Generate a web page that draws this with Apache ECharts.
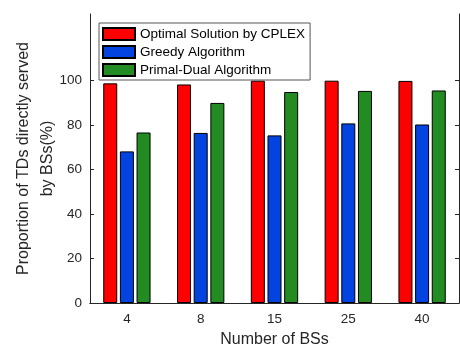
<!DOCTYPE html>
<html>
<head>
<meta charset="utf-8">
<script src="https://cdn.jsdelivr.net/npm/echarts@6/dist/echarts.min.js"></script>
<style>
  html, body { margin: 0; padding: 0; background: #fff; }
  #chart { width: 460px; height: 347px; }
</style>
</head>
<body>
<div id="chart"></div>
<script>
// Number of base stations on the x axis
const categories = ['4', '8', '15', '25', '40'];

// Share of terminal devices served directly by base stations (%)
const optimalCplex = [98.8, 98.3, 100, 100, 99.9];
const greedy = [68.2, 76.5, 75.4, 80.8, 80.3];
const primalDual = [76.7, 90.0, 94.9, 95.4, 95.6];

const yTicks = [0, 20, 40, 60, 80, 100];

const FONT = 'Liberation Sans, Arial, Helvetica, sans-serif';
const AXIS_COLOR = '#262626';

const chart = echarts.init(document.getElementById('chart'));

function barSeries(name, data, color) {
  return {
    name: name,
    type: 'bar',
    data: data,
    barWidth: 14,
    barGap: '19%',
    itemStyle: { color: color, borderColor: '#000', borderWidth: 1 }
  };
}

chart.setOption({
  animation: false,
  backgroundColor: '#fff',
  textStyle: { fontFamily: FONT },
  grid: { left: 90, right: 1, top: 14, bottom: 44, outerBoundsMode: 'none', containLabel: false },
  legend: {
    orient: 'vertical',
    left: 99,
    top: 23,
    padding: [4, 5, 3, 3],
    itemWidth: 32,
    itemHeight: 12,
    itemGap: 4,
    icon: 'rect',
    borderColor: '#555',
    borderWidth: 1,
    backgroundColor: '#fff',
    z: 10,
    textStyle: { fontFamily: FONT, fontSize: 13.5, lineHeight: 13, color: '#000' },
    data: ['Optimal Solution by CPLEX', 'Greedy Algorithm', 'Primal-Dual Algorithm']
  },
  xAxis: [
    {
      type: 'category',
      data: categories,
      position: 'bottom',
      name: 'Number of BSs',
      nameLocation: 'middle',
      nameGap: 29,
      nameMoveOverlap: false,
      nameTextStyle: { fontFamily: FONT, fontSize: 16, color: AXIS_COLOR },
      axisLine: { lineStyle: { color: AXIS_COLOR, width: 1 } },
      axisTick: { inside: true, alignWithLabel: true, length: 4, lineStyle: { color: AXIS_COLOR } },
      axisLabel: { margin: 9, fontFamily: FONT, fontSize: 13.5, color: AXIS_COLOR }
    },
    {
      type: 'category',
      data: categories,
      position: 'top',
      axisLine: { lineStyle: { color: AXIS_COLOR, width: 1 } },
      axisTick: { inside: true, alignWithLabel: true, length: 4, lineStyle: { color: AXIS_COLOR } },
      axisLabel: { show: false }
    }
  ],
  yAxis: [
    {
      type: 'value',
      min: 0,
      max: 130,
      interval: 20,
      position: 'left',
      name: 'Proportion of TDs directly served\nby BSs(%)',
      nameLocation: 'middle',
      nameRotate: 90,
      nameGap: 30,
      nameMoveOverlap: false,
      nameTextStyle: { fontFamily: FONT, fontSize: 16, color: AXIS_COLOR, lineHeight: 24 },
      splitLine: { show: false },
      axisLine: { show: true, lineStyle: { color: AXIS_COLOR, width: 1 } },
      axisTick: { show: true, inside: true, length: 4, customValues: yTicks, lineStyle: { color: AXIS_COLOR } },
      axisLabel: { margin: 8, fontFamily: FONT, fontSize: 13.5, color: AXIS_COLOR, customValues: yTicks }
    },
    {
      type: 'value',
      min: 0,
      max: 130,
      interval: 20,
      position: 'right',
      splitLine: { show: false },
      axisLine: { show: true, lineStyle: { color: AXIS_COLOR, width: 1 } },
      axisTick: { show: true, inside: true, length: 4, customValues: yTicks, lineStyle: { color: AXIS_COLOR } },
      axisLabel: { show: false }
    }
  ],
  series: [
    barSeries('Optimal Solution by CPLEX', optimalCplex, '#ff0000'),
    barSeries('Greedy Algorithm', greedy, '#0343df'),
    barSeries('Primal-Dual Algorithm', primalDual, '#228b22')
  ]
});
</script>
</body>
</html>
